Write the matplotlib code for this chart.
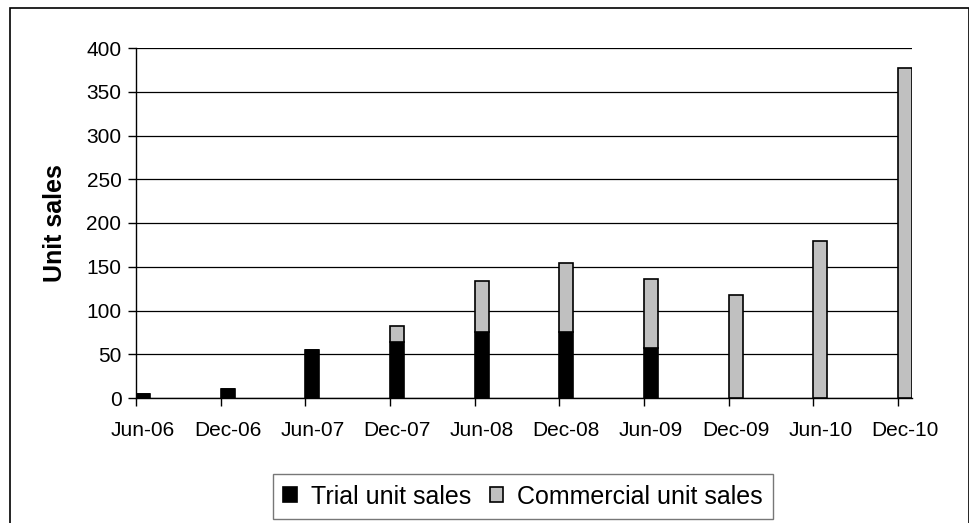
import numpy as np
import matplotlib
matplotlib.use('Agg')
import matplotlib.pyplot as plt
from matplotlib.patches import Rectangle
from matplotlib.transforms import ScaledTranslation

plt.rcParams['font.family'] = ['Liberation Sans', 'DejaVu Sans']

periods = ['Jun-06', 'Dec-06', 'Jun-07', 'Dec-07', 'Jun-08',
           'Dec-08', 'Jun-09', 'Dec-09', 'Jun-10', 'Dec-10']
month_index = [0, 6, 12, 18, 24, 30, 36, 42, 48, 54]
trial_sales = [5, 10, 55, 64, 76, 76, 57, 0, 0, 0]
commercial_sales = [0, 0, 0, 18, 58, 78, 79, 118, 179, 377]

fig = plt.figure(figsize=(9.7, 5.23), dpi=100)
ax = fig.add_axes([136 / 970, 125 / 523, 776 / 970, 350 / 523])

x = np.array(month_index)
trial = np.array(trial_sales)
comm = np.array(commercial_sales)

ax.bar(x, trial, width=1, align='edge', color='black', edgecolor='black',
       linewidth=1.2, label='Trial unit sales', zorder=3)
ax.bar(x, comm, width=1, bottom=trial, align='edge', color='#c0c0c0',
       edgecolor='black', linewidth=1.2, label='Commercial unit sales', zorder=3)

ax.set_xlim(0, 55)
ax.set_ylim(0, 400)
ax.set_yticks(range(0, 401, 50))
ax.set_xticks(month_index)
ax.set_xticklabels(periods)
ax.yaxis.grid(True, color='black', linewidth=0.9)
ax.set_axisbelow(True)

for side in ['top', 'right']:
    ax.spines[side].set_visible(False)
ax.spines['left'].set_linewidth(1)
ax.spines['bottom'].set_linewidth(1)
ax.tick_params(axis='both', direction='out', length=5.5, width=1, labelsize=15,
               colors='black')
ax.tick_params(axis='x', pad=11)
ax.tick_params(axis='y', pad=5)

# labels sit in the middle of each month slot, like a date axis
shift = ScaledTranslation(7 / 100, 0, fig.dpi_scale_trans)
for lbl in ax.get_xticklabels():
    lbl.set_transform(lbl.get_transform() + shift)

ax.set_ylabel('Unit sales', fontsize=18, fontweight='bold', labelpad=14)

leg = fig.legend(loc='center', bbox_to_anchor=(523 / 970, 1 - 496.5 / 523),
                 ncol=2, fontsize=18, frameon=True, fancybox=False,
                 handlelength=0.55, handleheight=0.55, handletextpad=0.55,
                 columnspacing=0.75, borderpad=0.42, borderaxespad=0)
leg.get_frame().set_edgecolor('#555555')
leg.get_frame().set_linewidth(1)

# outer chart border
fig.patches.append(Rectangle((10 / 970, -0.05), 959 / 970, 1.05 - 8 / 523,
                             transform=fig.transFigure, fill=False,
                             edgecolor='black', linewidth=1.2))

fig.savefig('out.png', dpi=100)
